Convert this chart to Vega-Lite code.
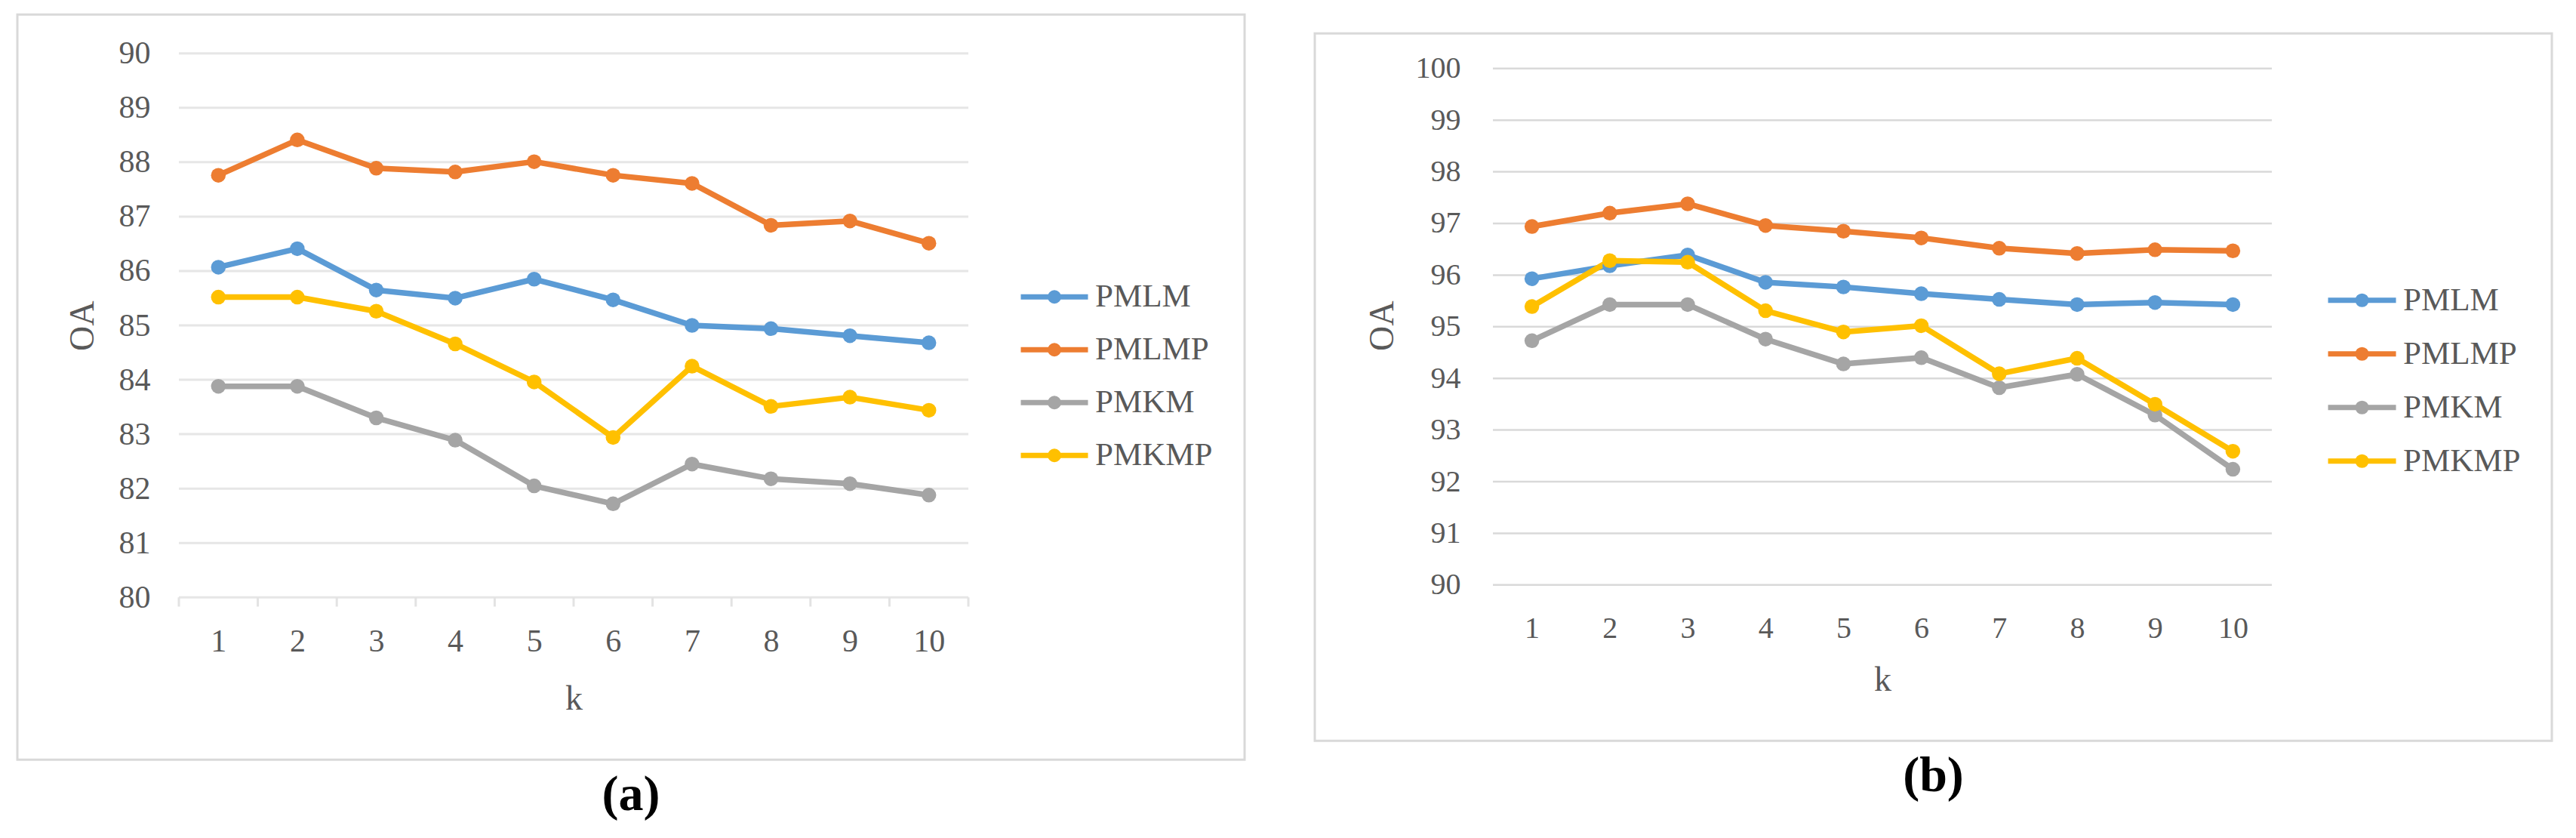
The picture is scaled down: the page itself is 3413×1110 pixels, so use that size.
{
  "$schema": "https://vega.github.io/schema/vega-lite/v6.json",
  "background": "white",
  "padding": {"left": 21, "top": 17, "right": 0, "bottom": 0},
  "autosize": {"type": "pad"},
  "spacing": 89,
  "center": true,
  "resolve": {
    "scale": {"x": "independent", "y": "independent", "color": "independent"},
    "legend": {"color": "independent"}
  },
  "config": {
    "view": {"stroke": "#d9d9d9", "strokeWidth": 3},
    "font": "Liberation Serif"
  },
  "datasets": {
    "a": [
      {"k": 1, "method": "PMLM", "oa": 86.07}, {"k": 2, "method": "PMLM", "oa": 86.41}, {"k": 3, "method": "PMLM", "oa": 85.65}, {"k": 4, "method": "PMLM", "oa": 85.50}, {"k": 5, "method": "PMLM", "oa": 85.85},
      {"k": 6, "method": "PMLM", "oa": 85.47}, {"k": 7, "method": "PMLM", "oa": 85.00}, {"k": 8, "method": "PMLM", "oa": 84.94}, {"k": 9, "method": "PMLM", "oa": 84.81}, {"k": 10, "method": "PMLM", "oa": 84.68},
      {"k": 1, "method": "PMLMP", "oa": 87.76}, {"k": 2, "method": "PMLMP", "oa": 88.41}, {"k": 3, "method": "PMLMP", "oa": 87.89}, {"k": 4, "method": "PMLMP", "oa": 87.82}, {"k": 5, "method": "PMLMP", "oa": 88.01},
      {"k": 6, "method": "PMLMP", "oa": 87.76}, {"k": 7, "method": "PMLMP", "oa": 87.61}, {"k": 8, "method": "PMLMP", "oa": 86.84}, {"k": 9, "method": "PMLMP", "oa": 86.92}, {"k": 10, "method": "PMLMP", "oa": 86.51},
      {"k": 1, "method": "PMKM", "oa": 83.88}, {"k": 2, "method": "PMKM", "oa": 83.88}, {"k": 3, "method": "PMKM", "oa": 83.30}, {"k": 4, "method": "PMKM", "oa": 82.89}, {"k": 5, "method": "PMKM", "oa": 82.05},
      {"k": 6, "method": "PMKM", "oa": 81.72}, {"k": 7, "method": "PMKM", "oa": 82.45}, {"k": 8, "method": "PMKM", "oa": 82.18}, {"k": 9, "method": "PMKM", "oa": 82.09}, {"k": 10, "method": "PMKM", "oa": 81.88},
      {"k": 1, "method": "PMKMP", "oa": 85.52}, {"k": 2, "method": "PMKMP", "oa": 85.52}, {"k": 3, "method": "PMKMP", "oa": 85.26}, {"k": 4, "method": "PMKMP", "oa": 84.66}, {"k": 5, "method": "PMKMP", "oa": 83.96},
      {"k": 6, "method": "PMKMP", "oa": 82.94}, {"k": 7, "method": "PMKMP", "oa": 84.25}, {"k": 8, "method": "PMKMP", "oa": 83.51}, {"k": 9, "method": "PMKMP", "oa": 83.68}, {"k": 10, "method": "PMKMP", "oa": 83.44}
    ],
    "b": [
      {"k": 1, "method": "PMLM", "oa": 95.93}, {"k": 2, "method": "PMLM", "oa": 96.18}, {"k": 3, "method": "PMLM", "oa": 96.39}, {"k": 4, "method": "PMLM", "oa": 95.86}, {"k": 5, "method": "PMLM", "oa": 95.77},
      {"k": 6, "method": "PMLM", "oa": 95.64}, {"k": 7, "method": "PMLM", "oa": 95.53}, {"k": 8, "method": "PMLM", "oa": 95.43}, {"k": 9, "method": "PMLM", "oa": 95.47}, {"k": 10, "method": "PMLM", "oa": 95.43},
      {"k": 1, "method": "PMLMP", "oa": 96.94}, {"k": 2, "method": "PMLMP", "oa": 97.20}, {"k": 3, "method": "PMLMP", "oa": 97.38}, {"k": 4, "method": "PMLMP", "oa": 96.96}, {"k": 5, "method": "PMLMP", "oa": 96.85},
      {"k": 6, "method": "PMLMP", "oa": 96.72}, {"k": 7, "method": "PMLMP", "oa": 96.52}, {"k": 8, "method": "PMLMP", "oa": 96.42}, {"k": 9, "method": "PMLMP", "oa": 96.49}, {"k": 10, "method": "PMLMP", "oa": 96.47},
      {"k": 1, "method": "PMKM", "oa": 94.73}, {"k": 2, "method": "PMKM", "oa": 95.43}, {"k": 3, "method": "PMKM", "oa": 95.43}, {"k": 4, "method": "PMKM", "oa": 94.76}, {"k": 5, "method": "PMKM", "oa": 94.28},
      {"k": 6, "method": "PMKM", "oa": 94.40}, {"k": 7, "method": "PMKM", "oa": 93.82}, {"k": 8, "method": "PMKM", "oa": 94.08}, {"k": 9, "method": "PMKM", "oa": 93.29}, {"k": 10, "method": "PMKM", "oa": 92.24},
      {"k": 1, "method": "PMKMP", "oa": 95.39}, {"k": 2, "method": "PMKMP", "oa": 96.28}, {"k": 3, "method": "PMKMP", "oa": 96.25}, {"k": 4, "method": "PMKMP", "oa": 95.31}, {"k": 5, "method": "PMKMP", "oa": 94.90},
      {"k": 6, "method": "PMKMP", "oa": 95.02}, {"k": 7, "method": "PMKMP", "oa": 94.09}, {"k": 8, "method": "PMKMP", "oa": 94.39}, {"k": 9, "method": "PMKMP", "oa": 93.50}, {"k": 10, "method": "PMKMP", "oa": 92.59}
    ],
    "gridA": [{"v": 80}, {"v": 81}, {"v": 82}, {"v": 83}, {"v": 84}, {"v": 85}, {"v": 86}, {"v": 87}, {"v": 88}, {"v": 89}, {"v": 90}],
    "gridB": [{"v": 90}, {"v": 91}, {"v": 92}, {"v": 93}, {"v": 94}, {"v": 95}, {"v": 96}, {"v": 97}, {"v": 98}, {"v": 99}, {"v": 100}],
    "ticksA": [{"t": 0.5}, {"t": 1.5}, {"t": 2.5}, {"t": 3.5}, {"t": 4.5}, {"t": 5.5}, {"t": 6.5}, {"t": 7.5}, {"t": 8.5}, {"t": 9.5}, {"t": 10.5}]
  },
  "hconcat": [
    {
      "width": 1626,
      "height": 987,
      "title": {"text": "(a)", "orient": "bottom", "offset": 15, "font": "Liberation Serif", "fontSize": 66, "fontWeight": "bold", "color": "#000000", "anchor": "middle"},
      "layer": [
        {
          "data": {"name": "gridA"},
          "mark": {"type": "rule", "color": "#e6e6e6", "strokeWidth": 3},
          "encoding": {
            "y": {"field": "v", "type": "quantitative",
              "scale": {"domain": [80, 90], "range": [772, 51.5], "nice": false, "zero": false},
              "axis": {"title": "OA", "orient": "left", "offset": -176, "grid": false, "domain": false, "ticks": false, "tickSize": 0, "labelPadding": 0,
                "values": [80, 81, 82, 83, 84, 85, 86, 87, 88, 89, 90], "format": "d",
                "labelFont": "Liberation Serif", "labelFontSize": 42, "labelColor": "#595959",
                "titleFont": "Liberation Serif", "titleFontSize": 46, "titleFontWeight": "normal", "titleColor": "#595959",
                "titleX": -90, "titleY": 412, "titleAngle": -90, "titleAlign": "center", "titleBaseline": "middle"}},
            "x": {"datum": 0.5, "type": "quantitative",
              "scale": {"domain": [0.5, 10.5], "range": [214, 1260], "nice": false, "zero": false},
              "axis": {"title": "k", "orient": "bottom", "offset": -177, "grid": false, "domain": false, "ticks": false, "tickSize": 0, "labelPadding": 0,
                "values": [1, 2, 3, 4, 5, 6, 7, 8, 9, 10], "format": "d", "labelFlush": false,
                "labelFont": "Liberation Serif", "labelFontSize": 42, "labelColor": "#595959",
                "titleFont": "Liberation Serif", "titleFontSize": 46, "titleFontWeight": "normal", "titleColor": "#595959",
                "titleX": 737, "titleY": 96, "titleAlign": "center", "titleBaseline": "middle"}},
            "x2": {"datum": 10.5}
          }
        },
        {
          "data": {"name": "ticksA"},
          "mark": {"type": "rule", "color": "#e3e3e3", "strokeWidth": 3},
          "encoding": {
            "x": {"field": "t", "type": "quantitative"},
            "y": {"datum": 80, "type": "quantitative"},
            "y2": {"datum": 79.83}
          }
        },
        {
          "data": {"name": "a"},
          "mark": {"type": "line", "strokeWidth": 7.5, "strokeJoin": "round"},
          "encoding": {
            "x": {"field": "k", "type": "quantitative"},
            "y": {"field": "oa", "type": "quantitative"},
            "color": {"field": "method", "type": "nominal",
              "scale": {"domain": ["PMLM", "PMLMP", "PMKM", "PMKMP"], "range": ["#5B9BD5", "#ED7D31", "#A5A5A5", "#FFC000"]},
              "legend": {"title": null, "orient": "none", "legendX": 1326, "legendY": 326, "padding": 0,
                "symbolType": "M-1,0H1M0.1236,0A0.1236,0.1236 0 1,1 -0.1236,0A0.1236,0.1236 0 1,1 0.1236,0M0.056,0A0.056,0.056 0 1,1 -0.056,0A0.056,0.056 0 1,1 0.056,0",
                "symbolSize": 7921, "symbolStrokeWidth": 7, "symbolOpacity": 1,
                "labelFont": "Liberation Serif", "labelFontSize": 43, "labelColor": "#595959", "labelOffset": 6, "labelLimit": 400,
                "rowPadding": -7}}
          }
        },
        {
          "data": {"name": "a"},
          "mark": {"type": "point", "filled": true, "size": 380, "opacity": 1},
          "encoding": {
            "x": {"field": "k", "type": "quantitative"},
            "y": {"field": "oa", "type": "quantitative"},
            "color": {"field": "method", "type": "nominal"}
          }
        }
      ]
    },
    {
      "width": 1639,
      "height": 937,
      "title": {"text": "(b)", "orient": "bottom", "offset": 15, "font": "Liberation Serif", "fontSize": 66, "fontWeight": "bold", "color": "#000000", "anchor": "middle"},
      "layer": [
        {
          "data": {"name": "gridB"},
          "mark": {"type": "rule", "color": "#d9d9d9", "strokeWidth": 2.5},
          "encoding": {
            "y": {"field": "v", "type": "quantitative",
              "scale": {"domain": [90, 100], "range": [730.6, 46.5], "nice": false, "zero": false},
              "axis": {"title": "OA", "orient": "left", "offset": -193, "grid": false, "domain": false, "ticks": false, "tickSize": 0, "labelPadding": 0,
                "values": [90, 91, 92, 93, 94, 95, 96, 97, 98, 99, 100], "format": "d",
                "labelFont": "Liberation Serif", "labelFontSize": 40, "labelColor": "#595959",
                "titleFont": "Liberation Serif", "titleFontSize": 46, "titleFontWeight": "normal", "titleColor": "#595959",
                "titleX": -104, "titleY": 387, "titleAngle": -90, "titleAlign": "center", "titleBaseline": "middle"}},
            "x": {"datum": 0.5, "type": "quantitative",
              "scale": {"domain": [0.5, 10.5], "range": [236, 1268], "nice": false, "zero": false},
              "axis": {"title": "k", "orient": "bottom", "offset": -169, "grid": false, "domain": false, "ticks": false, "tickSize": 0, "labelPadding": 0,
                "values": [1, 2, 3, 4, 5, 6, 7, 8, 9, 10], "format": "d", "labelFlush": false,
                "labelFont": "Liberation Serif", "labelFontSize": 40, "labelColor": "#595959",
                "titleFont": "Liberation Serif", "titleFontSize": 46, "titleFontWeight": "normal", "titleColor": "#595959",
                "titleX": 752, "titleY": 88, "titleAlign": "center", "titleBaseline": "middle"}},
            "x2": {"datum": 10.5}
          }
        },
        {
          "data": {"name": "b"},
          "mark": {"type": "line", "strokeWidth": 7.5, "strokeJoin": "round"},
          "encoding": {
            "x": {"field": "k", "type": "quantitative"},
            "y": {"field": "oa", "type": "quantitative"},
            "color": {"field": "method", "type": "nominal",
              "scale": {"domain": ["PMLM", "PMLMP", "PMKM", "PMKMP"], "range": ["#5B9BD5", "#ED7D31", "#A5A5A5", "#FFC000"]},
              "legend": {"title": null, "orient": "none", "legendX": 1339, "legendY": 305, "padding": 0,
                "symbolType": "M-1,0H1M0.1236,0A0.1236,0.1236 0 1,1 -0.1236,0A0.1236,0.1236 0 1,1 0.1236,0M0.056,0A0.056,0.056 0 1,1 -0.056,0A0.056,0.056 0 1,1 0.056,0",
                "symbolSize": 8100, "symbolStrokeWidth": 7, "symbolOpacity": 1,
                "labelFont": "Liberation Serif", "labelFontSize": 43, "labelColor": "#595959", "labelOffset": 6, "labelLimit": 400,
                "rowPadding": -12}}
          }
        },
        {
          "data": {"name": "b"},
          "mark": {"type": "point", "filled": true, "size": 380, "opacity": 1},
          "encoding": {
            "x": {"field": "k", "type": "quantitative"},
            "y": {"field": "oa", "type": "quantitative"},
            "color": {"field": "method", "type": "nominal"}
          }
        }
      ]
    }
  ]
}
